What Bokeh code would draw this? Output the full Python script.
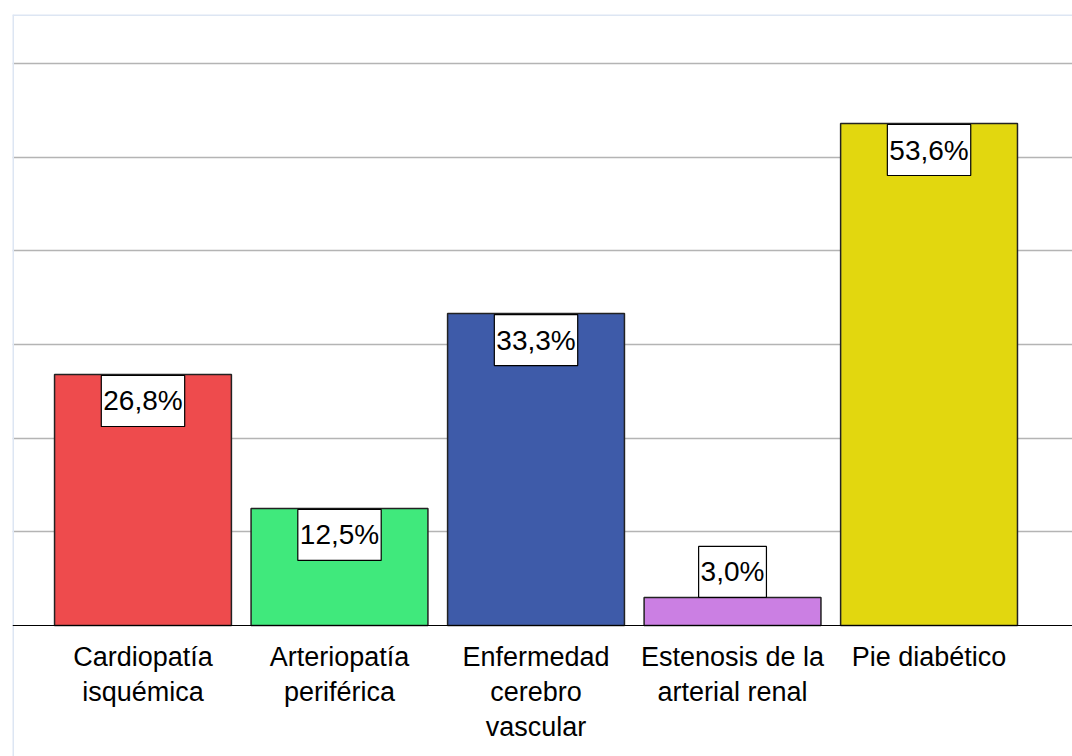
from bokeh.plotting import figure
from bokeh.models import ColumnDataSource, Span, FixedTicker, Range1d
from bokeh.core.properties import value
from bokeh.embed import file_html
from bokeh.resources import INLINE

# Chart data
categories = ["Cardiopatía\nisquémica", "Arteriopatía\nperiférica",
              "Enfermedad\ncerebro\nvascular", "Estenosis de la\narterial renal",
              "Pie diabético"]
percentages = [26.8, 12.5, 33.3, 3.0, 53.6]
bar_colors = ["#ee4b4d", "#40e97c", "#3e5ba9", "#cb7fe3", "#e2d70f"]
grid_values = [10, 20, 30, 40, 50, 60]

FONT = "Liberation Sans, Arial, sans-serif"

xs = list(range(len(categories)))
labels = [f"{v:.1f}%".replace(".", ",") for v in percentages]

src = ColumnDataSource(dict(x=xs, top=percentages, color=bar_colors,
                            cat=categories, label=labels))

p = figure(width=1072, height=756, output_backend="svg", toolbar_location=None,
           x_range=Range1d(-0.664, 4.730), y_range=Range1d(-13.99, 65.24),
           min_border_left=12, min_border_top=14, min_border_right=0,
           min_border_bottom=0, outline_line_color=None,
           background_fill_color="white", border_fill_color="white")

p.xaxis.visible = False
p.yaxis.visible = False
p.xgrid.visible = False
p.ygrid.ticker = FixedTicker(ticks=grid_values)
p.ygrid.grid_line_color = "#b4b4b4"
p.ygrid.grid_line_width = 1.5

# Light frame edges along the top and left
p.add_layout(Span(location=65.24, dimension="width", line_color="#dde6f3", line_width=3))
p.add_layout(Span(location=-0.664, dimension="height", line_color="#dde6f3", line_width=3))

p.vbar(x="x", top="top", bottom=0, width=0.9, source=src,
       fill_color="color", line_color="#222222", line_width=1.5)

# Baseline
p.add_layout(Span(location=0, dimension="width", line_color="black", line_width=1.2))

# Value labels: inside the bar when it is tall enough, else just above it
inside = [i for i, v in enumerate(percentages) if v >= 8]
above = [i for i, v in enumerate(percentages) if v < 8]

def subset(idx):
    return ColumnDataSource(dict(x=[xs[i] for i in idx],
                                 y=[percentages[i] for i in idx],
                                 label=[labels[i] for i in idx]))

common = dict(text="label", text_font=value(FONT), text_font_size="28px",
              text_color="black", text_align="center",
              background_fill_color="white", border_line_color="black",
              border_line_width=1.2, padding=(2, 10))

p.text(x="x", y="y", source=subset(inside), text_baseline="top",
       anchor="top_center", y_offset=1, **common)
p.text(x="x", y="y", source=subset(above), text_baseline="bottom",
       anchor="bottom_center", y_offset=0, **common)

# Category labels under the baseline
p.text(x="x", y=0, text="cat", source=src, text_font=value(FONT),
       text_font_size="27px", text_color="black", text_align="center",
       text_baseline="top", anchor="top_center", text_line_height=1.16,
       y_offset=17)

open("out.html", "w").write(file_html(p, INLINE))
